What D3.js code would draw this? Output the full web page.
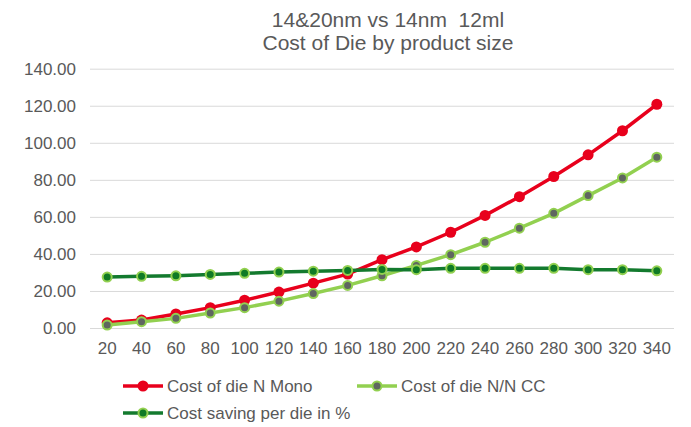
<!DOCTYPE html>
<html><head><meta charset="utf-8">
<script src="https://cdn.jsdelivr.net/npm/d3@7"></script>
<style>
body{margin:0;background:#fff;}
text{font-family:"Liberation Sans",Arial,sans-serif;fill:#595959;}
</style></head>
<body><svg id="c" width="691" height="427"></svg>
<script>
const categories = [20,40,60,80,100,120,140,160,180,200,220,240,260,280,300,320,340];
const costMono = [2.8,4.3,7.6,11.0,15.0,19.4,24.2,29.1,36.9,43.8,51.7,60.8,70.9,81.8,93.5,106.5,120.8];
const costCC = [1.6,3.4,5.2,8.1,11.0,14.5,18.6,23.0,28.2,33.8,39.6,46.3,53.9,61.9,71.5,81.0,92.2];
const saving = [27.5,27.9,28.2,28.9,29.5,30.2,30.7,31.1,31.6,31.5,32.2,32.2,32.2,32.2,31.5,31.5,30.9];
const yTicks = [0,20,40,60,80,100,120,140];
const titleLines = ["14&20nm vs 14nm  12ml","Cost of Die by product size"];
const seriesNames = ["Cost of die N Mono","Cost of die N/N CC","Cost saving per die in %"];

const svg = d3.select("#c");
const x = d3.scaleBand().domain(categories).range([90,674]);
const y = d3.scaleLinear().domain([0,140]).range([328,68.7]);
const cx = d => x(d)+x.bandwidth()/2;

// title
svg.append("text").attr("x",388).attr("y",27).attr("text-anchor","middle").style("font-size","21px").style("white-space","pre").text(titleLines[0]);
svg.append("text").attr("x",388).attr("y",50).attr("text-anchor","middle").style("font-size","21px").text(titleLines[1]);

// grid
const yAxis = d3.axisLeft(y).tickValues(yTicks).tickSize(-(674-90)).tickFormat(d3.format(".2f")).tickPadding(14);
const gy = svg.append("g").attr("transform","translate(90,0)").call(yAxis);
gy.select(".domain").remove();
gy.selectAll(".tick line").attr("stroke","#d9d9d9").attr("stroke-width",1);
gy.selectAll(".tick text").style("font-size","17px").attr("fill","#595959").attr("font-family","Liberation Sans, Arial, sans-serif");

const xAxis = d3.axisBottom(x).tickSize(0).tickPadding(14);
const gx = svg.append("g").attr("transform","translate(0,328)").call(xAxis);
gx.select(".domain").remove();
gx.selectAll(".tick text").style("font-size","17px").attr("fill","#595959").attr("font-family","Liberation Sans, Arial, sans-serif");

const series = [
  {name:seriesNames[0], values:costMono, line:"#e8001c", fill:"#e8001c", stroke:"#e8001c", r:5.5, sw:0},
  {name:seriesNames[1], values:costCC, line:"#92d050", fill:"#5f6660", stroke:"#92d050", r:4.5, sw:2},
  {name:seriesNames[2], values:saving, line:"#137a2e", fill:"#0f7a25", stroke:"#92d050", r:4.5, sw:2}
];
const line = d3.line().x((d,i)=>cx(categories[i])).y(d=>y(d));
series.forEach(s=>{
  svg.append("path").datum(s.values).attr("d",line).attr("fill","none").attr("stroke",s.line).attr("stroke-width",3.5).attr("stroke-linejoin","round");
  svg.selectAll(null).data(s.values).enter().append("circle")
    .attr("cx",(d,i)=>cx(categories[i])).attr("cy",d=>y(d)).attr("r",s.r)
    .attr("fill",s.fill).attr("stroke",s.stroke).attr("stroke-width",s.sw);
});

// legend
const legPos = [[123,386],[357,386],[123,413]];
series.forEach((s,i)=>{
  const [lx,ly] = legPos[i];
  svg.append("line").attr("x1",lx).attr("x2",lx+40).attr("y1",ly).attr("y2",ly).attr("stroke",s.line).attr("stroke-width",3.5);
  svg.append("circle").attr("cx",lx+20).attr("cy",ly).attr("r",s.r).attr("fill",s.fill).attr("stroke",s.stroke).attr("stroke-width",s.sw);
  svg.append("text").attr("x",lx+44).attr("y",ly+6).style("font-size","17px").text(s.name);
});
</script></body></html>
